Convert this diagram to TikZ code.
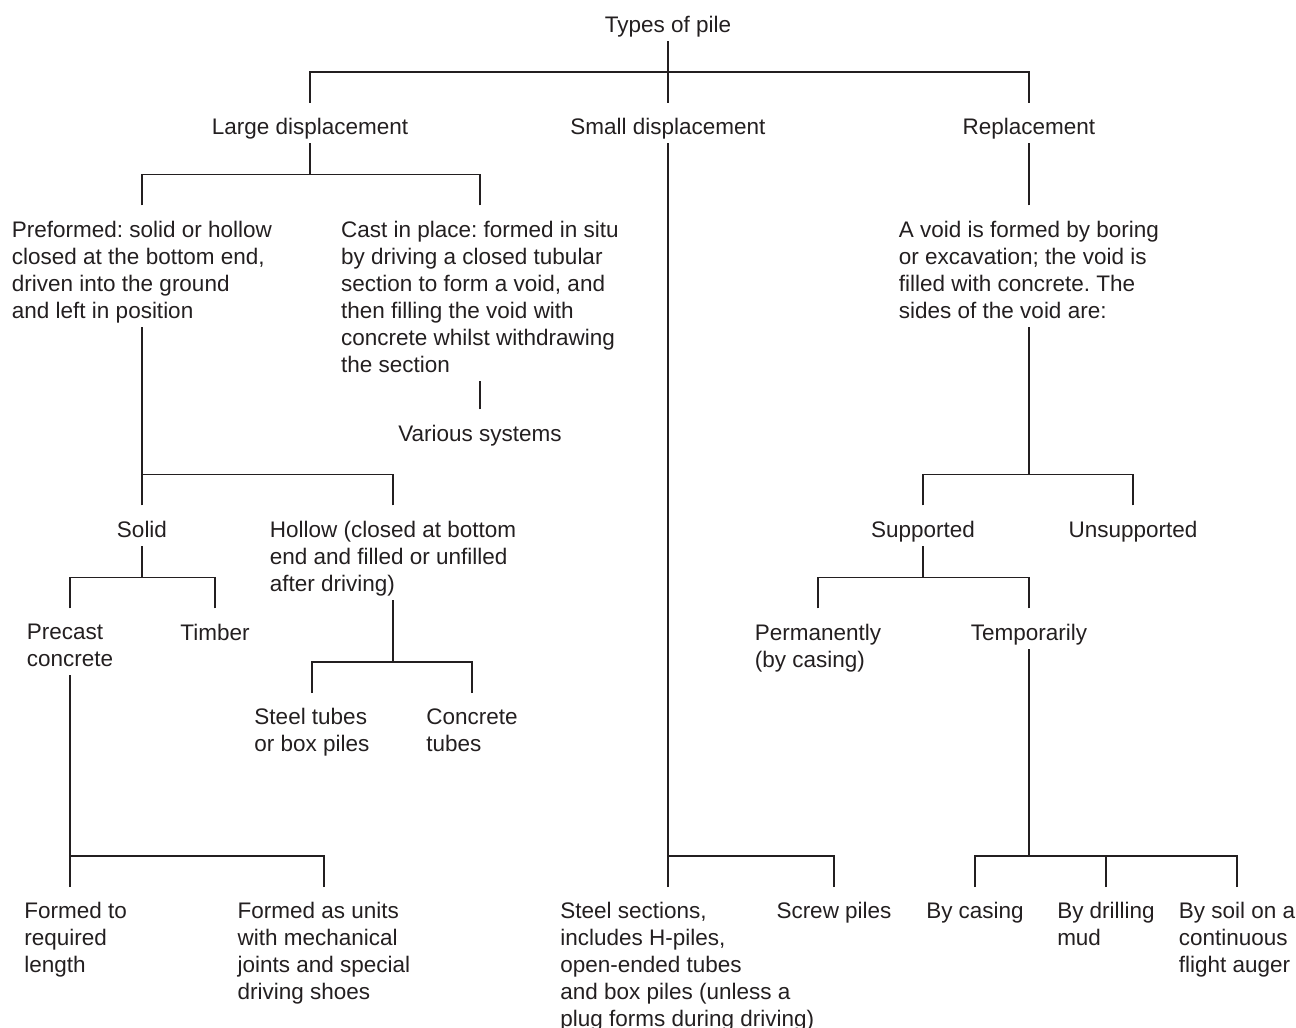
\documentclass[tikz,border=0pt]{standalone}
\usepackage{fontspec}
\setmainfont{Liberation Sans}
\usepackage{tikz}

\definecolor{ink}{RGB}{35,31,32}
% fixed room below the last line of a label
\newcommand{\dnrule}{\rule[-1.6mm]{0pt}{1.6mm}}

\begin{document}
\frenchspacing
\begin{tikzpicture}[
  x=0.2mm, y=-0.2mm,
  lbl/.style={inner sep=0pt, align=left, text=ink,
              font=\fontsize{12.8pt}{15.37pt}\selectfont,
              execute at end node=\dnrule},
  link/.style={draw=ink, line width=0.6pt, shorten <=3mm}
]
\useasboundingbox (0,0) rectangle (1296,1028);

% top levels
\node[lbl, anchor=north] (root) at (668,15.6) {Types of pile};
\node[lbl, anchor=north] (large) at (310,118) {Large displacement};
\node[lbl, anchor=north] (small) at (668,118) {Small displacement};
\node[lbl, anchor=north] (repl) at (1029,118) {Replacement};

\node[lbl, anchor=north] (preform) at (142,220.5) {Preformed: solid or hollow\\
  closed at the bottom end,\\ driven into the ground\\ and left in position};
\node[lbl, anchor=north] (cast) at (480,220.5) {Cast in place: formed in situ\\
  by driving a closed tubular\\ section to form a void, and\\
  then filling the void with\\ concrete whilst withdrawing\\ the section};
\node[lbl, anchor=north] (various) at (480,424.5) {Various systems};
\node[lbl, anchor=north] (void) at (1029,220.5) {A void is formed by boring\\
  or excavation; the void is\\ filled with concrete. The\\ sides of the void are:};

% preformed piles
\node[lbl, anchor=north] (solid) at (142,520.5) {Solid};
\node[lbl, anchor=north] (hollow) at (393,520.5) {Hollow (closed at bottom\\
  end and filled or unfilled\\ after driving)};
\node[lbl, anchor=north] (precast) at (70,623.5) {Precast\\ concrete};
\node[lbl, anchor=north] (timber) at (215,623.5) {Timber};
\node[lbl, anchor=north] (steeltube) at (312,708) {Steel tubes\\ or box piles};
\node[lbl, anchor=north] (conctube) at (472,708) {Concrete\\ tubes};
\node[lbl, anchor=north west] (fixlen) at (24,902) {Formed to\\ required\\ length};
\node[lbl, anchor=north] (units) at (324,902) {Formed as units\\
  with mechanical\\ joints and special\\ driving shoes};

% small displacement
\node[lbl, anchor=north west] (steelsec) at (560,902) {Steel sections,\\
  includes H-piles,\\ open-ended tubes\\ and box piles (unless a\\
  plug forms during driving)};
\node[lbl, anchor=north] (screw) at (834,902) {Screw piles};

% bored piles
\node[lbl, anchor=north] (supp) at (923,520.5) {Supported};
\node[lbl, anchor=north] (unsupp) at (1133,520.5) {Unsupported};
\node[lbl, anchor=north] (perm) at (818,623.5) {Permanently\\ (by casing)};
\node[lbl, anchor=north] (temp) at (1029,623.5) {Temporarily};
\node[lbl, anchor=north] (bycasing) at (975,902) {By casing};
\node[lbl, anchor=north] (bymud) at (1106,902) {By drilling\\ mud};
\node[lbl, anchor=north] (byauger) at (1237,902) {By soil on a\\
  continuous\\ flight auger};

% branches: up from each child, across, then up to the parent
\draw[link] (large.north) -- ++(0,-46) -| (root.south);
\draw[link] (small.north) -- ++(0,-46) -| (root.south);
\draw[link] (repl.north) -- ++(0,-46) -| (root.south);

\draw[link] (preform.north) -- ++(0,-46) -| (large.south);
\draw[link] (cast.north) -- ++(0,-46) -| (large.south);
\draw[link] (various.north) -- (cast.south);
\draw[link] (void.north) -- (repl.south);

\draw[link] (solid.north) -- ++(0,-46) -| (preform.south);
\draw[link] (hollow.north) -- ++(0,-46) -| (preform.south);
\draw[link] (precast.north) -- ++(0,-46) -| (solid.south);
\draw[link] (timber.north) -- ++(0,-46) -| (solid.south);
\draw[link] (steeltube.north) -- ++(0,-46) -| (hollow.south);
\draw[link] (conctube.north) -- ++(0,-46) -| (hollow.south);
\draw[link] (precast.south |- fixlen.north) -- (precast.south);
\draw[link] (units.north) -- ++(0,-46) -| (precast.south);

\draw[link] (small.south |- steelsec.north) -- (small.south);
\draw[link] (screw.north) -- ++(0,-46) -| (small.south);

\draw[link] (supp.north) -- ++(0,-46) -| (void.south);
\draw[link] (unsupp.north) -- ++(0,-46) -| (void.south);
\draw[link] (perm.north) -- ++(0,-46) -| (supp.south);
\draw[link] (temp.north) -- ++(0,-46) -| (supp.south);
\draw[link] (bycasing.north) -- ++(0,-46) -| (temp.south);
\draw[link] (bymud.north) -- ++(0,-46) -| (temp.south);
\draw[link] (byauger.north) -- ++(0,-46) -| (temp.south);
\end{tikzpicture}
\end{document}
